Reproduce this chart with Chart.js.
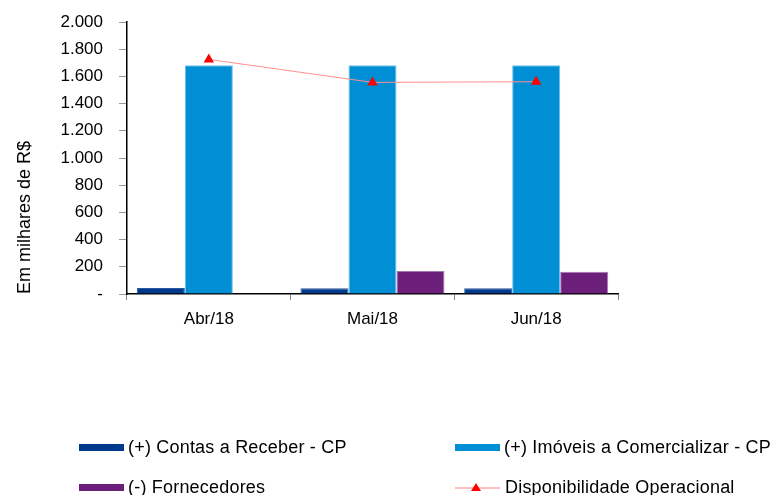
<!DOCTYPE html>
<html lang="pt-BR">
<head>
    <meta charset="UTF-8">
    <title>Disponibilidade Operacional</title>
    <style>
        body { margin: 0; padding: 0; background: #fff; font-family: Arial, "Liberation Sans", sans-serif; }
        #wrap { position: relative; width: 778px; height: 495px; }
        #chart { position: absolute; left: 0; top: 0; }
        .leg { position: absolute; font-size: 18px; letter-spacing: 0.2px; color: #000; white-space: nowrap; line-height: 20px; }
        .leg .box { position: absolute; left: 0; top: 7px; width: 45px; height: 7px; }
        .leg span.txt { position: absolute; left: 49px; top: 0; }
        .leg svg { position: absolute; left: 0; top: 2px; }
    </style>
    <script src="https://cdn.jsdelivr.net/npm/chart.js"></script>
</head>
<body>
<div id="wrap">
    <canvas id="chart" width="778" height="495"></canvas>
    <div class="leg" style="left:79px; top:437px;"><div class="box" style="background:#003A8C"></div><span class="txt">(+) Contas a Receber - CP</span></div>
    <div class="leg" style="left:455px; top:437px;"><div class="box" style="background:#008FD5"></div><span class="txt">(+) Imóveis a Comercializar - CP</span></div>
    <div class="leg" style="left:79px; top:477px;"><div class="box" style="background:#6B1F7A"></div><span class="txt">(-) Fornecedores</span></div>
    <div class="leg" style="left:455px; top:477px;">
        <svg width="45" height="16"><line x1="0" y1="9" x2="45" y2="9" stroke="#ff8080" stroke-width="1"/><polygon points="21,4 16,12 26,12" fill="#ff0000"/></svg>
        <span class="txt" style="left:50px">Disponibilidade Operacional</span>
    </div>
</div>

<script>
    // dados (em milhares de R$)
    var categories = ['Abr/18', 'Mai/18', 'Jun/18'];
    var contasReceber = [45, 43, 42];
    var imoveis = [1682, 1682, 1682];
    var fornecedores = [0, 169, 163];
    var disponibilidade = [1725, 1556, 1561];

    function fmt(v) {
        if (v === 0) return '-';
        return String(v).replace(/\B(?=(\d{3})+(?!\d))/g, '.');
    }

    var ctx = document.getElementById('chart').getContext('2d');
    Chart.defaults.font.family = 'Arial, "Liberation Sans", sans-serif';
    Chart.defaults.font.size = 17;
    Chart.defaults.color = '#000';

    new Chart(ctx, {
        type: 'bar',
        data: {
            labels: categories,
            datasets: [
                {
                    type: 'line',
                    label: 'Disponibilidade Operacional',
                    data: disponibilidade,
                    borderColor: '#ff9090',
                    borderWidth: 1,
                    pointStyle: 'triangle',
                    pointRadius: 6,
                    pointBackgroundColor: '#ff0000',
                    pointBorderColor: '#ff0000',
                    pointBorderWidth: 0,
                    tension: 0
                },
                {
                    label: '(+) Contas a Receber - CP',
                    data: contasReceber,
                    backgroundColor: '#003A8C',
                    borderColor: '#2a5aa0',
                    borderWidth: 1
                },
                {
                    label: '(+) Imóveis a Comercializar - CP',
                    data: imoveis,
                    backgroundColor: '#008FD5',
                    borderColor: '#6cc0ec',
                    borderWidth: 1
                },
                {
                    label: '(-) Fornecedores',
                    data: fornecedores,
                    backgroundColor: '#6B1F7A',
                    borderColor: '#a678b0',
                    borderWidth: 1
                }
            ]
        },
        options: {
            responsive: false,
            animation: false,
            layout: { padding: { left: 0, right: 160, top: 22, bottom: 0 } },
            datasets: { bar: { categoryPercentage: 0.88, barPercentage: 1.0 } },
            plugins: { legend: { display: false }, tooltip: { enabled: false } },
            scales: {
                x: {
                    grid: { drawOnChartArea: false, drawTicks: true, tickLength: 6, color: '#888', offset: true },
                    border: { color: '#000', width: 1.5 },
                    ticks: { padding: 9, font: { size: 17 } },
                    afterFit: function (s) { s.height = 495 - 294; }
                },
                y: {
                    min: 0,
                    max: 2000,
                    ticks: { stepSize: 200, padding: 16, callback: function (v) { return fmt(v); } },
                    grid: { drawOnChartArea: false, drawTicks: true, tickLength: 8, color: '#999' },
                    border: { color: '#000', width: 1.5 },
                    title: {
                        display: true,
                        text: 'Em milhares de R$',
                        align: 'start',
                        font: { size: 18 },
                        padding: { top: 14, bottom: 0 }
                    },
                    afterFit: function (s) { s.width = 127; s.paddingTop = 0; s.paddingBottom = 0; }
                }
            }
        }
    });
</script>
</body>
</html>
